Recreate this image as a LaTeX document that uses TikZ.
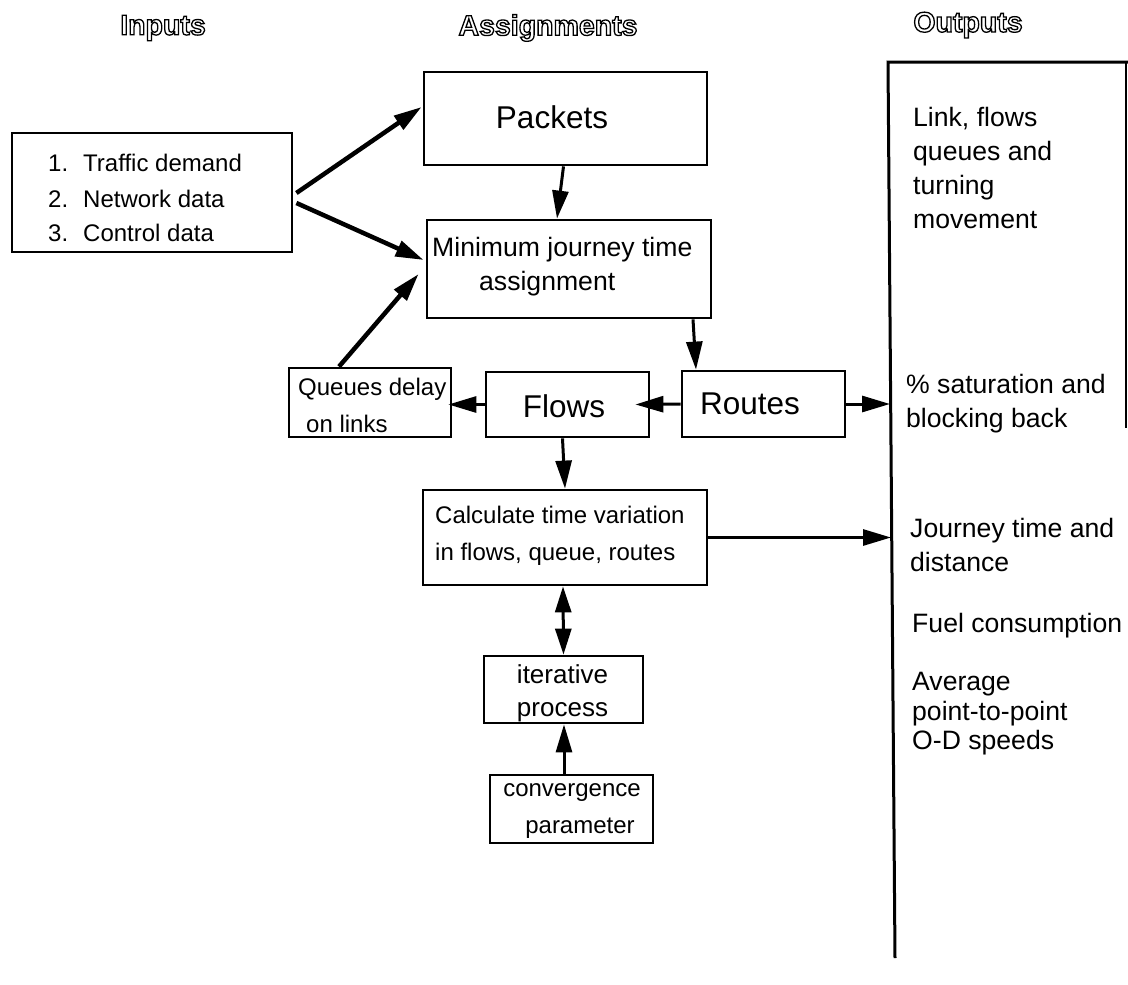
\documentclass[tikz,border=0pt]{standalone}
\usepackage{fontspec}
\setmainfont{Liberation Sans}
\usetikzlibrary{arrows.meta}
\newcommand{\outl}[1]{\special{pdf:literal direct 1 Tr 1.3 w}#1\special{pdf:literal direct 0 Tr}}
\tikzset{
  box/.style={draw, line width=2.8pt, inner sep=0pt},
  con/.style={line width=3pt, -{Triangle[length=28pt,width=16pt]}},
  fat/.style={con, line width=4.5pt},
  dbl/.style={line width=3pt, {Triangle[length=26pt,width=16pt]}-{Triangle[length=26pt,width=16pt]}},
  title/.style={font=\fontsize{28.5}{34}\selectfont\bfseries, inner sep=0pt},
  big/.style={font=\fontsize{31.5}{38}\selectfont, inner sep=0pt},
  mid/.style={font=\fontsize{26.6}{34}\selectfont, inner sep=0pt, align=left},
  sml/.style={font=\fontsize{24}{37}\selectfont, inner sep=0pt, align=left},
}
\begin{document}
\begin{tikzpicture}[x=1pt,y=-1pt]
\useasboundingbox (0,0) rectangle (1128,985);

% titles
\node[title] (tIn) at (163,28) {\outl{Inputs}};
\node[title] (tAs) at (548,28) {\outl{Assignments}};
\node[title] (tOut) at (968,25) {\outl{Outputs}};

% boxes
\node[box, minimum width=280pt, minimum height=119pt] (inp) at (152,192.5) {};
\node[box, minimum width=283pt, minimum height=93pt] (pack) at (565.5,118.5) {};
\node[box, minimum width=284pt, minimum height=98pt] (mjt) at (569,269) {};
\node[box, minimum width=162pt, minimum height=69pt] (que) at (370,402.5) {};
\node[box, minimum width=163pt, minimum height=65pt] (flows) at (567.5,404.5) {};
\node[box, minimum width=163pt, minimum height=66pt] (routes) at (763.5,404) {};
\node[box, minimum width=284pt, minimum height=95pt] (calc) at (565,537.5) {};
\node[box, minimum width=159pt, minimum height=67pt] (iter) at (563.5,689.5) {};
\node[box, minimum width=163pt, minimum height=68pt] (conv) at (571.5,809) {};

% texts in boxes
\node[sml, anchor=west] (in1) at (48,163) {\makebox[35pt][l]{1.}Traffic demand};
\node[sml, anchor=west] (in2) at (48,199) {\makebox[35pt][l]{2.}Network data};
\node[sml, anchor=west] (in3) at (48,233) {\makebox[35pt][l]{3.}Control data};
\node[big] (packT) at (552,117) {Packets};
\node[mid, anchor=west] (mjtT) at (432,267) {Minimum journey time\\\hspace*{47pt}assignment};
\node[sml, anchor=west] (queT) at (298,405) {Queues delay\\\hspace*{8pt}on links};
\node[big] (flowsT) at (564,406) {Flows};
\node[big] (routesT) at (750,404) {Routes};
\node[sml, anchor=west] (calcT) at (435,535.5) {Calculate time variation\\in flows, queue, routes};
\node[mid, align=center, font=\fontsize{26}{33}\selectfont] (iterT) at (562.5,693.5) {iterative\\process};
\node[sml, align=center] (convT) at (572,811.5) {convergence\\\hspace*{16pt}parameter};

% outputs frame
\coordinate (oTL) at (888,62);
\coordinate (oTR) at (1128,62);
\coordinate (oBL) at (895,958);
\coordinate (oRT) at (1126,62);
\coordinate (oRB) at (1126,428);
\draw[line width=3pt] (oTR) -- (oTL) -- (oBL);
\draw[line width=2.5pt] (oRT) -- (oRB);
\coordinate (outR) at (890,404);
\coordinate (outC) at (891,537.5);

% output texts
\node[mid, anchor=west] (o1) at (913,168) {Link, flows\\queues and\\turning\\movement};
\node[mid, anchor=west] (o2) at (906,403.5) {\% saturation and\\blocking back};
\node[mid, anchor=west] (o3) at (910,545) {Journey time and\\distance};
\node[mid, anchor=west] (o4) at (912,626) {Fuel consumption};
\node[mid, anchor=west, font=\fontsize{26.6}{29.5}\selectfont] (o5) at (912,714) {Average\\point-to-point\\O-D speeds};

% connectors
\draw[fat] ([xshift=3pt,yshift=-0.5pt]inp.east) -- ([xshift=-1pt,yshift=11.5pt]pack.west);
\draw[fat] ([xshift=3pt,yshift=-10.5pt]inp.east) -- ([xshift=-2pt,yshift=9pt]mjt.west);
\draw[fat] ([xshift=-31pt]que.north) -- ([xshift=-7pt,yshift=-5pt]mjt.west);
\draw[con] ([xshift=-2pt]pack.south) -- ([xshift=-12pt]mjt.north);
\draw[con] ([xshift=124pt]mjt.south) -- ([xshift=-67.5pt]routes.north);
\draw[con] (routes.west) -- ([xshift=-15pt]flows.east);
\draw[con] (flows.west) -- ([xshift=-4pt,yshift=-2pt]que.east);
\draw[con] (routes.east) -- (outR);
\draw[con] ([xshift=-5pt]flows.south) -- (calc.north);
\draw[con] (calc.east) -- (outC);
\draw[dbl] ([xshift=-2pt]calc.south) -- (iter.north);
\draw[con] ([xshift=-7.5pt]conv.north) -- ([xshift=0.5pt]iter.south);
\end{tikzpicture}
\end{document}
